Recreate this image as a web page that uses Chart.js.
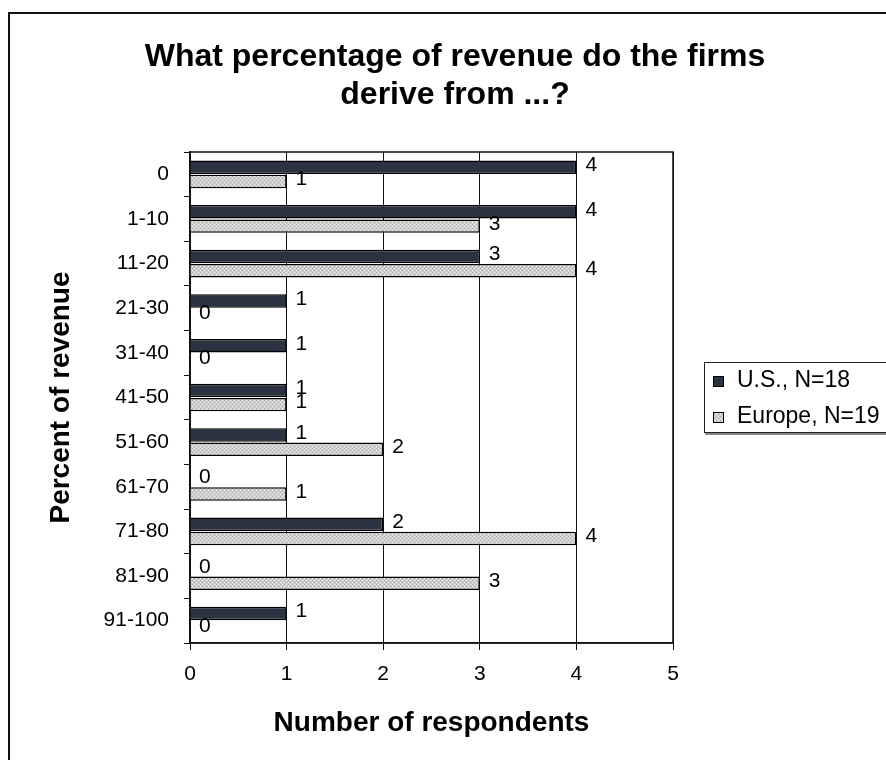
<!DOCTYPE html>
<html>
<head>
<meta charset="utf-8">
<script src="https://cdn.jsdelivr.net/npm/chart.js@4"></script>
<style>
  body { margin: 0; background: #fff; }
</style>
</head>
<body>
<canvas id="myChart" width="886" height="760"></canvas>
<script>
// survey answers, bucketed by share of revenue
const categorias = ["0", "1-10", "11-20", "21-30", "31-40", "41-50", "51-60", "61-70", "71-80", "81-90", "91-100"];
const usValues = [4, 4, 3, 1, 1, 1, 1, 0, 2, 0, 1];
const europeValues = [1, 3, 4, 0, 0, 1, 2, 1, 4, 3, 0];
const seriesNames = ["U.S., N=18", "Europe, N=19"];
const tituloLinhas = ["What percentage of revenue do the firms", "derive from ...?"];

const FONT = "'Liberation Sans', Arial, sans-serif";

// small dotted fill for the Europe bars
function makePattern() {
  let c = document.createElement("canvas");
  c.width = 4;
  c.height = 4;
  let g = c.getContext("2d");
  g.fillStyle = "#cfcfcf";
  g.fillRect(0, 0, 4, 4);
  g.fillStyle = "#a9a9a9";
  g.fillRect(0, 0, 1, 1);
  g.fillRect(2, 2, 1, 1);
  g.fillStyle = "#f2f2f2";
  g.fillRect(2, 0, 1, 1);
  g.fillRect(0, 2, 1, 1);
  return g.createPattern(c, "repeat");
}
const europeFill = makePattern();

// frame, title, value labels and legend box
const extras = {
  id: "extras",
  beforeDraw(chart) {
    let ctx = chart.ctx;
    ctx.save();
    ctx.strokeStyle = "#111";
    ctx.lineWidth = 2;
    ctx.strokeRect(9, 13, 1000, 1000);
    ctx.fillStyle = "#000";
    ctx.font = "bold 32px " + FONT;
    ctx.textAlign = "center";
    ctx.textBaseline = "middle";
    ctx.fillText(tituloLinhas[0], 455, 57);
    ctx.fillText(tituloLinhas[1], 455, 95);
    ctx.restore();
  },
  beforeDatasetsDraw(chart) {
    let ctx = chart.ctx;
    let a = chart.chartArea;
    ctx.save();
    ctx.strokeStyle = "#111";
    ctx.lineWidth = 1.5;
    ctx.strokeRect(a.left, a.top, a.right - a.left, a.bottom - a.top);
    ctx.restore();
  },
  afterDatasetsDraw(chart) {
    let ctx = chart.ctx;
    ctx.save();
    ctx.fillStyle = "#000";
    ctx.font = "21px " + FONT;
    ctx.textAlign = "left";
    ctx.textBaseline = "middle";
    chart.data.datasets.forEach((ds, i) => {
      chart.getDatasetMeta(i).data.forEach((bar, j) => {
        ctx.fillText(String(ds.data[j]), bar.x + 9, bar.y - 2);
      });
    });
    ctx.restore();
  },
  afterDraw(chart) {
    let ctx = chart.ctx;
    ctx.save();
    ctx.fillStyle = "#fff";
    ctx.fillRect(704, 362, 200, 71);
    ctx.strokeStyle = "#222";
    ctx.lineWidth = 1;
    ctx.strokeRect(704.5, 362.5, 200, 70);
    ctx.strokeStyle = "#888";
    ctx.lineWidth = 2;
    ctx.beginPath();
    ctx.moveTo(705, 434);
    ctx.lineTo(886, 434);
    ctx.stroke();
    ctx.font = "23px " + FONT;
    ctx.textBaseline = "middle";
    let ys = [381, 417];
    chart.data.datasets.forEach((ds, i) => {
      ctx.fillStyle = ds.backgroundColor;
      ctx.fillRect(713, ys[i] - 5, 11, 11);
      ctx.strokeStyle = "#000";
      ctx.lineWidth = 1;
      ctx.strokeRect(713.5, ys[i] - 4.5, 10, 10);
      ctx.fillStyle = "#000";
      ctx.fillText(ds.label, 737, ys[i]);
    });
    ctx.restore();
  },
};

new Chart("myChart", {
  type: "bar",
  data: {
    labels: categorias,
    datasets: [
      {
        label: seriesNames[0],
        data: usValues,
        backgroundColor: "#2b3241",
        borderColor: "#000",
        borderWidth: 1.5,
      },
      {
        label: seriesNames[1],
        data: europeValues,
        backgroundColor: europeFill,
        borderColor: "#000",
        borderWidth: 1.5,
      },
    ],
  },
  options: {
    responsive: false,
    animation: false,
    indexAxis: "y",
    categoryPercentage: 0.64,
    barPercentage: 0.94,
    layout: { padding: { top: 152, right: 213, bottom: 0, left: 0 } },
    plugins: {
      legend: { display: false },
      title: { display: false },
      tooltip: { enabled: false },
    },
    scales: {
      x: {
        min: 0,
        max: 5,
        ticks: { stepSize: 1, color: "#000", font: { family: FONT, size: 21 }, padding: 12 },
        grid: { color: "#111", lineWidth: 1, tickLength: 7 },
        border: { color: "#111", width: 1.5 },
        title: {
          display: true,
          text: "Number of respondents",
          color: "#000",
          font: { family: FONT, size: 28, weight: "bold" },
          padding: { top: 0, bottom: 20 },
        },
        afterFit(scale) {
          scale.height = 117;
        },
      },
      y: {
        ticks: { color: "#000", font: { family: FONT, size: 21 }, padding: 15 },
        grid: { offset: true, drawOnChartArea: false, color: "#111", tickLength: 6 },
        border: { color: "#111", width: 1.5 },
        title: {
          display: true,
          text: "Percent of revenue",
          color: "#000",
          font: { family: FONT, size: 28, weight: "bold" },
          padding: { top: 44, bottom: 0 },
        },
        afterFit(scale) {
          scale.width = 190;
        },
      },
    },
  },
  plugins: [extras],
});
</script>
</body>
</html>
